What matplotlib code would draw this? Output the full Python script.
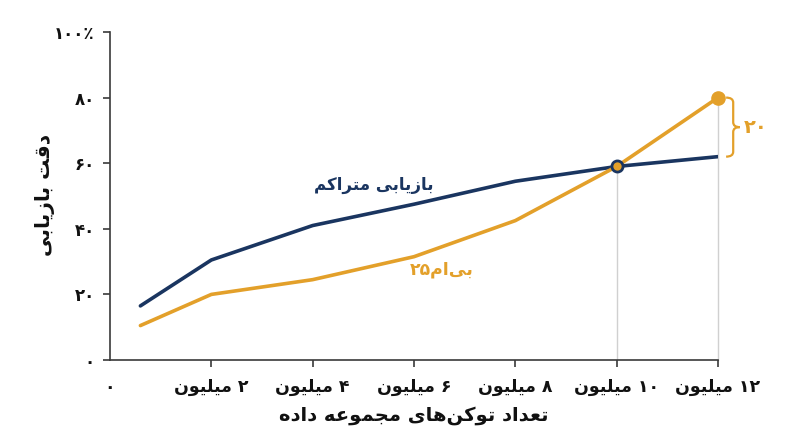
import matplotlib
matplotlib.use('Agg')
import matplotlib.pyplot as plt
from matplotlib.path import Path
from matplotlib.patches import PathPatch

# data
tokens_m = [0.6, 2, 4, 6, 8, 10, 12]
dense = [16.5, 30.5, 41, 47.5, 54.5, 59, 62]
bm25 = [10.5, 20, 24.5, 31.5, 42.5, 59, 80]
x_ticks = [0, 2, 4, 6, 8, 10, 12]
y_ticks = [0, 20, 40, 60, 80, 100]
gap_label = '۲۰'

NAVY = '#1a3560'
ORANGE = '#e3a02a'
GRID = '#d0d0d0'
AXC = '#3a3a3a'

# --- minimal Persian shaping (matplotlib has no complex text layout) ---
# letter: (isolated, final, initial, medial); right-joining letters have only 2 forms
FORMS = {
    'ا': ('\uFE8D', '\uFE8E'), 'د': ('\uFEA9', '\uFEAA'), 'ر': ('\uFEAD', '\uFEAE'),
    'ز': ('\uFEAF', '\uFEB0'), 'و': ('\uFEED', '\uFEEE'),
    'ب': ('\uFE8F', '\uFE90', '\uFE91', '\uFE92'), 'ت': ('\uFE95', '\uFE96', '\uFE97', '\uFE98'),
    'ج': ('\uFE9D', '\uFE9E', '\uFE9F', '\uFEA0'), 'ع': ('\uFEC9', '\uFECA', '\uFECB', '\uFECC'),
    'ق': ('\uFED5', '\uFED6', '\uFED7', '\uFED8'), 'ل': ('\uFEDD', '\uFEDE', '\uFEDF', '\uFEE0'),
    'م': ('\uFEE1', '\uFEE2', '\uFEE3', '\uFEE4'), 'ن': ('\uFEE5', '\uFEE6', '\uFEE7', '\uFEE8'),
    'ه': ('\uFEE9', '\uFEEA', '\uFEEB', '\uFEEC'), 'ی': ('\uFBFC', '\uFBFD', '\uFBFE', '\uFBFF'),
    'ک': ('\uFB8E', '\uFB8F', '\uFB90', '\uFB91'),
}
DIGITS = '۰۱۲۳۴۵۶۷۸۹٪'


def fa(s):
    out = []
    for i, ch in enumerate(s):
        if ch not in FORMS:
            if ch != '\u200c':
                out.append(ch)
            continue
        prev = s[i - 1] if i > 0 else ''
        nxt = s[i + 1] if i + 1 < len(s) else ''
        join_prev = prev in FORMS and len(FORMS[prev]) == 4
        join_next = len(FORMS[ch]) == 4 and nxt in FORMS
        f = FORMS[ch]
        if join_prev and join_next:
            out.append(f[3])
        elif join_prev:
            out.append(f[1])
        elif join_next:
            out.append(f[2])
        else:
            out.append(f[0])
    # visual order: reverse, but keep digit runs left-to-right
    runs, cur = [], ''
    for ch in out:
        if cur and ((ch in DIGITS) != (cur[-1] in DIGITS)):
            runs.append(cur)
            cur = ''
        cur += ch
    if cur:
        runs.append(cur)
    return ''.join(r if r[0] in DIGITS else r[::-1] for r in reversed(runs))


def fa_num(n):
    return str(n).translate(str.maketrans('0123456789', '۰۱۲۳۴۵۶۷۸۹'))


plt.rcParams['font.family'] = ['DejaVu Sans']

fig = plt.figure(figsize=(8, 4.47), dpi=100)
ax = fig.add_axes([0.1375, 0.1946, 0.76, 0.7338])

ax.plot(tokens_m, dense, color=NAVY, lw=2.6, solid_capstyle='round', zorder=3)
ax.plot(tokens_m, bm25, color=ORANGE, lw=2.6, solid_capstyle='round', zorder=4, clip_on=False)

# light guides down to the axis at 10M and 12M
ax.plot([tokens_m[5]] * 2, [0, bm25[5]], color=GRID, lw=1, zorder=1)
ax.plot([tokens_m[6]] * 2, [0, bm25[6]], color=GRID, lw=1, zorder=1, clip_on=False)

ax.plot(tokens_m[5], bm25[5], 'o', ms=8, mfc=ORANGE, mec=NAVY, mew=2, zorder=5)
ax.plot(tokens_m[6], bm25[6], 'o', ms=9.5, color=ORANGE, zorder=5, clip_on=False)

# curly brace between the two 12M values
top, bot = bm25[6], dense[6]
mid = (top + bot) / 2
x_end, x_sp, x_tip = 12.16, 12.30, 12.43
e = 1.5
verts = [(x_end, top), (x_sp, top), (x_sp, top - e),
         (x_sp, mid + e),
         (x_sp, mid), (x_tip, mid), (x_tip, mid),
         (x_sp, mid), (x_sp, mid - e),
         (x_sp, bot + e),
         (x_sp, bot), (x_end, bot)]
codes = [Path.MOVETO, Path.CURVE3, Path.CURVE3,
         Path.LINETO,
         Path.CURVE3, Path.CURVE3, Path.MOVETO,
         Path.CURVE3, Path.CURVE3,
         Path.LINETO,
         Path.CURVE3, Path.CURVE3]
ax.add_patch(PathPatch(Path(verts, codes), fill=False, ec=ORANGE, lw=1.6, clip_on=False))
ax.text(12.5, mid, gap_label, color=ORANGE, fontsize=14, fontweight='bold',
        ha='left', va='center', clip_on=False)

ax.text(5.2, 53.5, fa('بازیابی متراکم'), color=NAVY, fontsize=12, fontweight='bold',
        ha='center', va='center')
ax.text(6.55, 27.5, fa('بی\u200cام۲۵'), color=ORANGE, fontsize=12.5, fontweight='bold',
        ha='center', va='center')

ax.set_xlim(0, 12)
ax.set_ylim(0, 100)
ax.set_xticks(x_ticks)
ax.set_xticklabels([fa_num(0)] + [fa(fa_num(v) + ' میلیون') for v in x_ticks[1:]])
ax.set_yticks(y_ticks)
ax.set_yticklabels([fa_num(v) for v in y_ticks[:-1]] + [fa_num(100) + '٪'])
ax.xaxis.get_major_ticks()[0].tick1line.set_visible(False)
for lab in ax.get_xticklabels() + ax.get_yticklabels():
    lab.set_fontweight('bold')

for side in ['top', 'right']:
    ax.spines[side].set_visible(False)
for side in ['left', 'bottom']:
    ax.spines[side].set_color(AXC)
    ax.spines[side].set_linewidth(1.2)
ax.tick_params(axis='both', colors=AXC, length=5, width=1.2, labelcolor='#111111')
ax.tick_params(axis='x', pad=8, labelsize=12.5)
ax.tick_params(axis='y', pad=6, labelsize=12)

ax.set_xlabel(fa('تعداد توکن\u200cهای مجموعه داده'), fontsize=14, fontweight='bold',
              color='#111111', labelpad=7)
fig.text(45 / 800, 1 - 195 / 447, fa('دقت بازیابی'), rotation=90, fontsize=14.5,
         fontweight='bold', color='#111111', ha='center', va='center')

fig.savefig('out.png', dpi=100)
